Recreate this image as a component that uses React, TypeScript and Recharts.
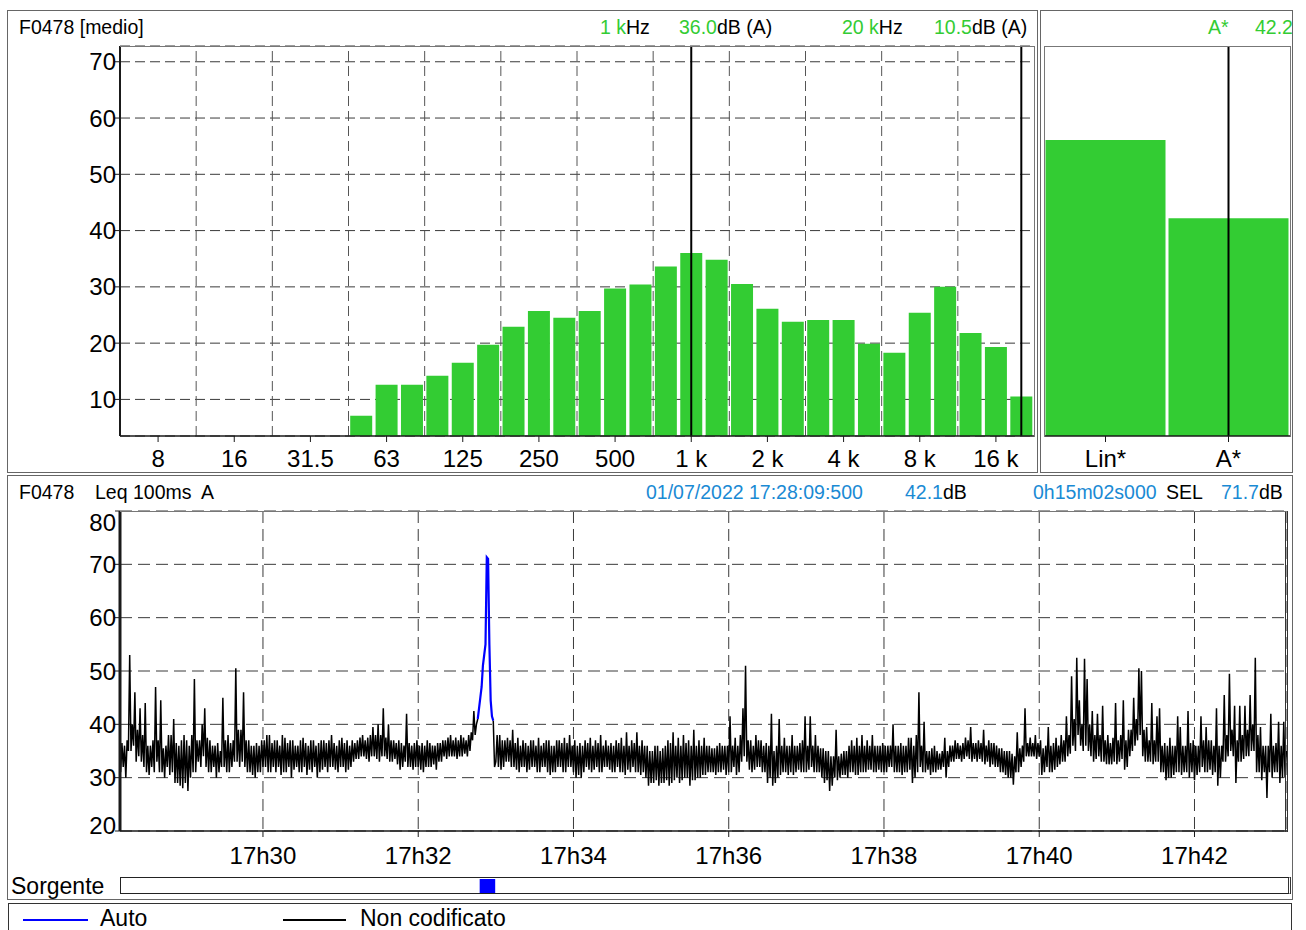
import React from "react";
import { Bar, BarChart, CartesianGrid, Line, LineChart, ReferenceLine, XAxis, YAxis } from "recharts";

const FONT = '"Liberation Sans", Arial, Helvetica, sans-serif';
const GREEN = "#33cc33";
const CYAN = "#1a8ad4";
const AUTO_BLUE = "#0000ff";
const AXIS = "#1a1a1a";
const GRID = "#3a3a3a";
const FRAME = "#777";

// 1/3 octave spectrum, Leq medio (dB A)
const bandLabels = ["6.3", "8", "10", "12.5", "16", "20", "25", "31.5", "40", "50", "63", "80", "100", "125", "160", "200", "250", "315", "400", "500", "630", "800", "1 k", "1.25 k", "1.6 k", "2 k", "2.5 k", "3.15 k", "4 k", "5 k", "6.3 k", "8 k", "10 k", "12.5 k", "16 k", "20 k"];
const bandLevels = [null, null, null, null, null, null, null, null, null, 7.1, 12.6, 12.6, 14.2, 16.5, 19.7, 22.9, 25.7, 24.5, 25.7, 29.7, 30.4, 33.6, 36.0, 34.8, 30.5, 26.1, 23.8, 24.1, 24.1, 19.9, 18.3, 25.4, 30.0, 21.8, 19.3, 10.5];
const shownBands = ["8", "16", "31.5", "63", "125", "250", "500", "1 k", "2 k", "4 k", "8 k", "16 k"];
const cursorBands = ["1 k", "20 k"];
// octave grid lines sit on the lower edge of these bands
const octaveStartBands = ["12.5", "25", "50", "100", "200", "400", "800", "1.6 k", "3.15 k", "6.3 k", "12.5 k"];
const spectrumTicks = [10, 20, 30, 40, 50, 60, 70];
const spectrumDomain = [3.5, 72.8];

// global levels
const overallLabels = ["Lin*", "A*"];
const overallLevels = [56.1, 42.2];

// Leq 100ms profile, read every second from 17:28:10 (t = seconds after 17:28:00)
const firstSample = 10;
const sampleStep = 1;
const min1728 = [31, 36.5, 32, 36, 30, 37, 35, 53, 35, 40, 36, 46, 33, 39, 34, 43, 33, 38, 32, 44, 31, 36, 30.5, 36, 32, 37, 31, 47, 33, 37, 31, 44.5, 31, 35.5, 30, 36, 32, 38, 30.5, 38, 31, 41, 29, 36.5, 29, 36, 28.5, 37, 28, 38, 29, 37, 27.5, 36, 30, 38, 31, 48.5, 31, 37];
const min1729 = [33, 37, 32, 40, 34, 43, 32, 37.5, 31, 37, 31, 36, 32, 36, 30, 36.5, 31, 35, 32, 45, 32, 37, 31, 38, 31, 36.5, 32, 37, 33, 50.5, 33, 39, 32, 39, 33, 46, 32, 37, 31, 37, 31, 36, 30.5, 36, 30, 36.5, 31, 36, 31, 37, 32, 37, 32, 38, 31, 38, 31, 36.5, 32, 37];
const min1730 = [31, 37, 32, 36, 30.5, 38, 31, 37.5, 31, 36.5, 32, 37, 30, 37, 31.5, 36, 32, 36, 31, 37, 31, 37.5, 32, 36.5, 30.5, 36, 31.5, 37, 31, 37, 32, 36, 30, 36.5, 31, 37, 31.5, 37, 32, 36.5, 31, 37, 32, 38, 32, 36.5, 31.5, 36, 31, 37, 32, 37.5, 32, 36.5, 31, 37, 31.5, 36, 32, 37];
const min1731 = [33, 36.5, 33.5, 37, 33.5, 37.5, 34, 38, 34, 37, 33.5, 37.5, 33, 38, 34, 39.5, 34, 38, 33.5, 40, 33, 38, 34, 43, 34, 37.5, 33.5, 40, 33, 37, 33, 37, 33.5, 36.5, 32.5, 37, 31.5, 36.5, 32, 36, 33, 42, 32, 36.5, 32, 36, 31.5, 36.5, 32, 37, 32, 36, 31.5, 36.5, 31, 36, 32, 37, 32, 36.5];
const min1732 = [32, 36, 32.5, 36, 31.5, 36.5, 33, 36.5, 33, 37, 34, 37, 33.5, 37.5, 34, 38, 34, 37, 34, 37.5, 33.5, 37, 34, 38, 34, 37.5, 34.5, 37, 34, 38, 35, 38.5, 37, 42.5, 38, 40, 41, null, null, null, null, null, null, null, null, null, null, null, 40.7, 32, 33, 38, 32, 38, 31.5, 37, 32, 37, 33, 37.5];
const min1733 = [33, 37, 32, 39, 32, 36.5, 31.5, 37.5, 31, 36, 32, 37, 32, 36.5, 31, 36, 31.5, 37, 32, 37, 32, 36, 31, 37.5, 31, 36, 32, 36.5, 32, 37, 31, 37, 30.5, 36, 31, 36, 31, 37, 32, 37, 32, 36.5, 31, 37.5, 31, 36.5, 32, 38, 32, 36, 31, 37, 30, 36, 30.5, 36.5, 30, 36, 31, 37];
const min1734 = [32, 36.5, 31.5, 37.5, 31, 36, 31.5, 37, 32, 36.5, 31, 38, 31, 36, 32, 37, 32, 36, 31.5, 36.5, 31, 36, 31, 37, 32, 36.5, 31, 37.5, 31, 36, 30.5, 38.5, 31.5, 36, 31, 37, 32, 36.5, 31, 38.5, 31, 36, 30.5, 37, 31, 36, 30, 36, 28.5, 35, 29, 35, 29, 36, 29.5, 36, 28.5, 35, 29, 35.5];
const min1735 = [29, 36, 29.5, 37, 28.5, 36.5, 29, 38.5, 29.5, 36, 30, 37.5, 29, 36, 29.5, 38, 30, 36.5, 30, 37, 28.5, 36, 29.5, 39, 29.5, 36, 30, 37, 30, 36, 30.5, 37.5, 30.5, 36, 31, 36, 31, 35.5, 31, 35.5, 30.5, 36, 31, 36.5, 31, 36, 31.5, 36, 30.5, 36, 31, 41.5, 31, 36, 32, 37.5, 30.5, 36, 31, 38];
const min1736 = [33, 43, 34, 51, 33, 37, 31.5, 37, 31, 36, 31.5, 38, 32, 37, 32, 37, 31, 36, 31, 36.5, 29, 36, 30, 42, 28.5, 35, 29, 36, 30, 41, 30.5, 36, 31, 37.5, 31, 36, 30.5, 36, 31, 38, 30.5, 36, 31, 36, 31.5, 36.5, 31, 37, 31, 41.5, 31, 36, 31.5, 41.5, 32, 36, 31, 38, 31, 36];
const min1737 = [31, 35.5, 30, 35.5, 29, 35, 29.5, 35, 27.5, 34, 28.5, 34, 30, 39, 29.5, 34, 30, 34.5, 30.5, 35, 30.5, 35, 30, 36, 31, 37, 31, 36, 30.5, 37.5, 30.5, 36, 31, 38, 31, 36, 31, 37, 31.5, 36, 31.5, 38, 31, 36, 31, 36, 31.5, 36, 31, 36.5, 31, 36, 31, 36, 32, 36, 32, 40, 31, 36];
const min1738 = [31, 36, 31, 36.5, 30.5, 36, 31, 36, 31, 37.5, 31.5, 37.5, 29, 36, 30, 38, 31, 46, 32, 36, 31, 40.5, 31, 35, 31.5, 35, 30.5, 35.5, 31, 36, 31, 35, 31.5, 34.5, 31.5, 35, 32, 37.5, 30, 35, 32, 36, 33, 36, 33, 37, 33.5, 36.5, 33.5, 36, 33, 36.5, 33.5, 37.5, 34, 37, 33.5, 39.5, 33, 36.5];
const min1739 = [33.5, 36.5, 33, 37, 33.5, 36.5, 33, 39, 32.5, 36, 33, 37, 32, 36.5, 32.5, 36.5, 32, 36, 32, 35.5, 31, 35.5, 31, 35, 30.5, 35, 30, 35, 30, 34.5, 28.7, 34, 31, 38.5, 31, 35.5, 32, 36, 33, 43, 34, 36.5, 34, 37.5, 34, 36.5, 34, 38, 33.5, 36.5, 34, 37, 30.5, 35.5, 31, 36, 32, 39.5, 31, 36];
const min1740 = [31, 36.5, 31.5, 37.5, 32, 36, 32.5, 38, 33, 37, 33, 41.5, 34, 38, 34.5, 49, 36, 41, 35, 52.5, 38, 44.5, 36, 40, 35, 52.3, 36, 48.5, 35, 40, 34, 42.5, 33, 38, 33.5, 42, 34, 38, 33, 43.5, 33, 37, 32.5, 38, 32.5, 36.5, 32.5, 37.5, 33, 44, 32.5, 37, 33, 38, 33.5, 44.5, 31.5, 37, 32, 39];
const min1741 = [34, 39, 35, 45, 36, 41, 37, 50.5, 38, 50, 34, 39, 33, 39.5, 33, 37, 33, 44, 32.5, 37, 33, 41.5, 33, 43, 31, 36, 31, 36.5, 29.5, 36, 30, 37.5, 30, 36, 30.5, 36, 31, 41.5, 31, 39.5, 30.5, 36, 31, 36, 31, 42.5, 30, 36.5, 31, 37, 29.5, 36, 30.5, 36, 31, 41.5, 32, 37, 31, 39.5];
const min1742 = [31, 37, 31.5, 37, 30.5, 36, 31, 43, 28.5, 36, 30, 36, 33, 45.5, 33, 38, 34, 49.5, 35, 39, 34, 43.5, 29, 37, 33, 43.5, 33, 38, 33.5, 43.5, 34, 39, 34, 45.5, 35, 40, 35, 52.5, 31, 38, 31, 39.5, 29.5, 36, 31, 36, 26.2, 36, 31, 42, 30, 36, 31, 36.5, 31, 40.5, 29, 36, 30, 40.5];
const min1743 = [30, 35];
const leqMinutes = [min1728, min1729, min1730, min1731, min1732, min1733, min1734, min1735, min1736, min1737, min1738, min1739, min1740, min1741, min1742, min1743];

// "Auto" event (blue), 1 s resolution
const autoTimes = [286, 287, 288, 289, 290, 291, 292, 293, 294, 295, 296, 297, 298];
const autoLevels = [41, 43, 45, 47, 51, 53, 55, 71.3, 71, 55, 44.5, 41.5, 40.7];
const autoEvent = [287.5, 299.5];

const timeDomain = [9.5, 911.5]; // 17:28:09.500 + 0h15m02s
const timeTicks = [120, 240, 360, 480, 600, 720, 840];
const levelTicks = [20, 30, 40, 50, 60, 70, 80];

const spectrum = bandLabels.map((band, i) => ({ band, level: bandLevels[i] }));
const overall = overallLabels.map((name, i) => ({ name, level: overallLevels[i] }));

const rowsByTime = new Map<number, any>();
leqMinutes.flat().forEach((v, i) => {
  const t = firstSample + i * sampleStep;
  rowsByTime.set(t, { t, other: v });
});
autoTimes.forEach((t, i) => {
  rowsByTime.set(t, { ...(rowsByTime.get(t) ?? { t }), auto: autoLevels[i] });
});
const timeRows = [...rowsByTime.values()].sort((a, b) => a.t - b.t);
const sourceRows = [{ name: "Auto", span: autoEvent }];

const clockLabel = (t: number) => `17h${28 + t / 60}`;

function BandTick(props: any) {
  const { x, y, payload } = props;
  if (!shownBands.includes(payload.value)) return <g />;
  return (
    <g>
      <line x1={x} x2={x} y1={y} y2={y + 6} stroke={AXIS} />
      <text x={x} y={y + 31} textAnchor="middle" fontSize={24} fontFamily={FONT} fill="#000">
        {payload.value}
      </text>
    </g>
  );
}

function OverallTick(props: any) {
  const { x, y, payload } = props;
  return (
    <g>
      <line x1={x} x2={x} y1={y} y2={y + 6} stroke={AXIS} />
      <text x={x} y={y + 31} textAnchor="middle" fontSize={24} fontFamily={FONT} fill="#000">
        {payload.value}
      </text>
    </g>
  );
}

function TimeTick(props: any) {
  const { x, y, payload } = props;
  return (
    <g>
      <line x1={x} x2={x} y1={y} y2={y + 6} stroke={AXIS} />
      <text x={x} y={y + 33} textAnchor="middle" fontSize={24} fontFamily={FONT} fill="#000">
        {clockLabel(payload.value)}
      </text>
    </g>
  );
}

// level labels; the outer two are pulled inside the plot like the original
function LevelTick(props: any) {
  const { x, y, payload, top, bottom } = props;
  const shift = payload.value === top ? 11 : payload.value === bottom ? -6 : 0;
  return (
    <text x={x + 1} y={y + 8.6 + shift} textAnchor="end" fontSize={24} fontFamily={FONT} fill="#000">
      {payload.value}
    </text>
  );
}

function Box({ left, top, width, height, style }: any) {
  return (
    <div
      style={{
        position: "absolute",
        left,
        top,
        width,
        height,
        boxSizing: "border-box",
        pointerEvents: "none",
        ...style,
      }}
    />
  );
}

function Txt({ left, top, color = "#000", size = 19.5, children }: any) {
  return (
    <div style={{ position: "absolute", left, top, color, fontSize: size, lineHeight: `${Math.round(size) + 3}px`, whiteSpace: "nowrap" }}>
      {children}
    </div>
  );
}

export default function App() {
  return (
    <div
      style={{
        position: "absolute",
        left: 0,
        top: 0,
        width: 1306,
        height: 930,
        overflow: "hidden",
        background: "#fff",
        fontFamily: FONT,
      }}
    >
      {/* ---------- spectrum panel ---------- */}
      <Box left={7} top={10} width={1031} height={463} style={{ border: "1px solid #666" }} />
      <Txt left={19} top={16}>F0478 [medio]</Txt>
      <Txt left={600} top={16}>
        <span style={{ color: GREEN }}>1 k</span>Hz
      </Txt>
      <Txt left={679} top={16}>
        <span style={{ color: GREEN }}>36.0</span>dB (A)
      </Txt>
      <Txt left={842} top={16}>
        <span style={{ color: GREEN }}>20 k</span>Hz
      </Txt>
      <Txt left={934} top={16}>
        <span style={{ color: GREEN }}>10.5</span>dB (A)
      </Txt>

      <div style={{ position: "absolute", left: 7, top: 10 }}>
        <BarChart
          width={1030}
          height={462}
          data={spectrum}
          margin={{ top: 36, right: 3, bottom: 0, left: 0 }}
          barCategoryGap={1.7}
        >
          <CartesianGrid vertical={false} stroke={GRID} strokeDasharray="10 5" />
          {octaveStartBands.map((b) => (
            <ReferenceLine key={b} x={b} position="start" stroke="#555" strokeDasharray="10 5" />
          ))}
          <XAxis
            dataKey="band"
            interval={0}
            tickLine={false}
            tickSize={0}
            tickMargin={0}
            height={36}
            axisLine={{ stroke: AXIS, strokeWidth: 1.5 }}
            tick={BandTick}
          />
          <YAxis
            domain={spectrumDomain}
            ticks={spectrumTicks}
            allowDataOverflow
            interval={0}
            width={113}
            tickSize={5}
            tickMargin={0}
            tickLine={{ stroke: AXIS }}
            axisLine={{ stroke: AXIS, strokeWidth: 2 }}
            tick={(p: any) => <LevelTick {...p} top={null} bottom={null} />}
          />
          <Bar dataKey="level" fill={GREEN} isAnimationActive={false} />
          {cursorBands.map((b) => (
            <ReferenceLine key={b} x={b} stroke="#000" strokeWidth={2} />
          ))}
        </BarChart>
      </div>
      <Box left={120} top={46} width={915} height={391} style={{ borderTop: `1px solid ${FRAME}`, borderRight: `1px solid ${FRAME}` }} />

      {/* ---------- global level panel ---------- */}
      <div style={{ position: "absolute", left: 1040, top: 10, width: 253, height: 463, overflow: "hidden" }}>
        <Txt left={168} top={6}>
          <span style={{ color: GREEN }}>A*</span>
        </Txt>
        <Txt left={215} top={6}>
          <span style={{ color: GREEN }}>42.2</span>
        </Txt>
      </div>
      <Box left={1040} top={10} width={253} height={463} style={{ border: "1px solid #666" }} />
      <div style={{ position: "absolute", left: 1040, top: 10 }}>
        <BarChart
          width={252}
          height={462}
          data={overall}
          margin={{ top: 36, right: 2, bottom: 0, left: 4 }}
          barCategoryGap={1.5}
        >
          <XAxis
            dataKey="name"
            interval={0}
            tickLine={false}
            tickSize={0}
            tickMargin={0}
            height={36}
            axisLine={{ stroke: AXIS, strokeWidth: 1.5 }}
            tick={OverallTick}
          />
          <YAxis hide domain={spectrumDomain} allowDataOverflow />
          <Bar dataKey="level" fill={GREEN} isAnimationActive={false} />
          <ReferenceLine x="A*" stroke="#000" strokeWidth={2} />
        </BarChart>
      </div>
      <Box
        left={1044}
        top={46}
        width={247}
        height={391}
        style={{ borderTop: `1px solid ${FRAME}`, borderLeft: `1px solid ${FRAME}`, borderRight: `1px solid ${FRAME}` }}
      />

      {/* ---------- time history panel ---------- */}
      <Box left={7} top={475} width={1286} height={425} style={{ border: "1px solid #666" }} />
      <Txt left={19} top={481}>F0478</Txt>
      <Txt left={95} top={481}>Leq 100ms</Txt>
      <Txt left={201} top={481}>A</Txt>
      <Txt left={646} top={481} color={CYAN}>01/07/2022 17:28:09:500</Txt>
      <Txt left={905} top={481}>
        <span style={{ color: CYAN }}>42.1</span>dB
      </Txt>
      <Txt left={1033} top={481} color={CYAN}>0h15m02s000</Txt>
      <Txt left={1166} top={481}>SEL</Txt>
      <Txt left={1221} top={481}>
        <span style={{ color: CYAN }}>71.7</span>dB
      </Txt>

      <div style={{ position: "absolute", left: 7, top: 474 }}>
        <LineChart width={1285} height={397} data={timeRows} margin={{ top: 37, right: 5, bottom: 0, left: 0 }}>
          <CartesianGrid stroke={GRID} strokeDasharray="12 6" />
          <XAxis
            dataKey="t"
            type="number"
            domain={timeDomain}
            ticks={timeTicks}
            allowDataOverflow
            interval={0}
            height={40}
            tickLine={false}
            tickSize={0}
            tickMargin={0}
            axisLine={{ stroke: AXIS, strokeWidth: 1.5 }}
            tick={TimeTick}
          />
          <YAxis
            domain={[20, 80]}
            ticks={levelTicks}
            allowDataOverflow
            interval={0}
            width={113}
            tickSize={5}
            tickMargin={0}
            tickLine={{ stroke: AXIS }}
            axisLine={{ stroke: AXIS, strokeWidth: 3 }}
            tick={(p: any) => <LevelTick {...p} top={80} bottom={20} />}
          />
          <Line
            dataKey="other"
            stroke="#000"
            strokeWidth={1.5}
            dot={false}
            activeDot={false}
            connectNulls={false}
            isAnimationActive={false}
          />
          <Line
            dataKey="auto"
            stroke={AUTO_BLUE}
            strokeWidth={2.2}
            dot={false}
            activeDot={false}
            connectNulls={false}
            isAnimationActive={false}
          />
        </LineChart>
      </div>
      <Box left={120} top={511} width={1168} height={321} style={{ borderTop: `1px solid ${FRAME}`, borderRight: "3px double #333" }} />

      {/* source strip */}
      <Txt left={11} top={873} size={23}>Sorgente</Txt>
      <Box left={120} top={877} width={1171} height={17} style={{ border: "1px solid #222", borderRight: "3px double #333" }} />
      <div style={{ position: "absolute", left: 120, top: 879 }}>
        <BarChart layout="vertical" width={1167} height={14} data={sourceRows} margin={{ top: 0, right: 0, bottom: 0, left: 0 }} barCategoryGap={0}>
          <XAxis type="number" domain={timeDomain} allowDataOverflow hide />
          <YAxis type="category" dataKey="name" hide />
          <Bar dataKey="span" fill={AUTO_BLUE} isAnimationActive={false} />
        </BarChart>
      </div>

      {/* legend */}
      <Box left={8} top={903} width={1284} height={40} style={{ border: "1px solid #333" }} />
      <div style={{ position: "absolute", left: 23, top: 919, width: 65, height: 2, background: AUTO_BLUE }} />
      <Txt left={100} top={905} size={23}>Auto</Txt>
      <div style={{ position: "absolute", left: 283, top: 919, width: 63, height: 2, background: "#000" }} />
      <Txt left={360} top={905} size={23}>Non codificato</Txt>
    </div>
  );
}
